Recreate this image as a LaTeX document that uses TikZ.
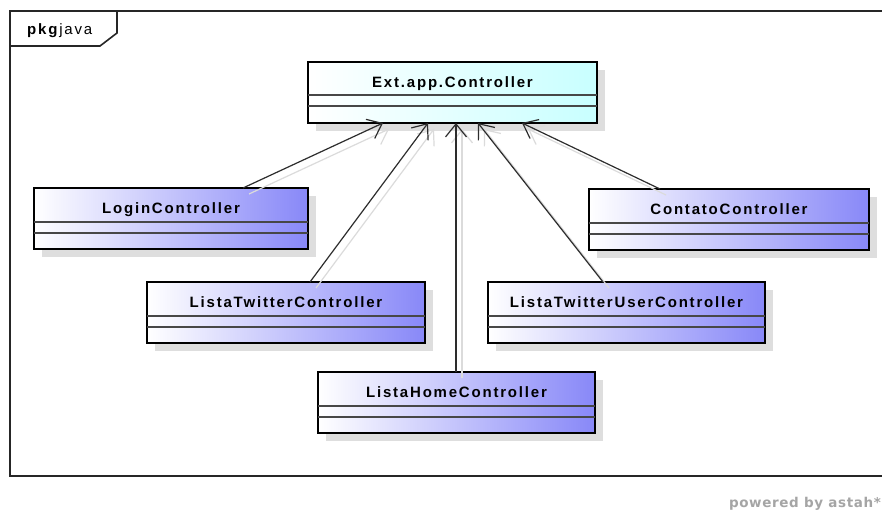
\documentclass[tikz,border=0pt]{standalone}
\usepackage{fontspec}
\setmainfont{Liberation Sans}
\newfontfamily\umlfont[LetterSpace=12]{Liberation Sans}
\newfontfamily\brandfont[LetterSpace=4.5]{DejaVu Sans}
\usetikzlibrary{arrows.meta}

\definecolor{classblue}{RGB}{136,136,248}
\definecolor{classcyan}{RGB}{200,255,255}
\definecolor{edgegray}{RGB}{45,45,45}
\definecolor{boxshade}{RGB}{222,222,222}
\definecolor{brandgray}{RGB}{165,165,165}

\tikzset{
  classbox/.style={draw=black, line width=2.9pt, rectangle, inner sep=0pt, outer sep=0pt,
    anchor=north west, left color=white, right color=#1, minimum height=61pt},
  classshadow/.style={fill=boxshade, draw=none},
  classname/.style={anchor=base, inner sep=0pt,
    font=\umlfont\bfseries\fontsize{15}{18}\selectfont},
  divider/.style={draw=black!72, line width=1.3pt},
  gen/.style={draw=edgegray, line width=1.2pt,
    -{Straight Barb[length=13pt,width=21pt]}},
  genshadow/.style={gen, draw=black!14, transform canvas={xshift=6pt,yshift=-6pt}},
  frameline/.style={draw=black!85, line width=1.6pt},
}

% #1 name, #2 x, #3 y (top left), #4 width, #5 fill colour, #6 first divider, #7 class name
\newcommand\umlclass[7]{%
  \fill[classshadow] (#2+8,#3+8) rectangle ++(#4,61);
  \node[classbox=#5, minimum width=#4pt] (#1) at (#2,#3) {};
  \draw[divider] ([yshift=-#6pt]#1.north west) -- ([yshift=-#6pt]#1.north east);
  \draw[divider] ([yshift=-#6pt-11pt]#1.north west) -- ([yshift=-#6pt-11pt]#1.north east);
  \node[classname] (#1-label) at ([yshift=-25.5pt]#1.north) {#7};
}

\begin{document}
\begin{tikzpicture}[x=1pt,y=-1pt]
  \useasboundingbox (0,0) rectangle (882,510);
  \fill[white] (0,0) rectangle (882,510);

  % package frame with its name tab
  \draw[frameline] (900,11) -- (10,11) -- (10,476) -- (900,476);
  \draw[frameline] (10,46) -- (100,46) -- (117,33) -- (117,11);
  \node[anchor=base west, inner sep=0pt, font=\fontsize{15}{18}\selectfont] (pkg)
    at (27,35) {\umlfont\textbf{pkg}java};

  % classes
  \umlclass{ext}{308}{62}{289}{classcyan}{33}{Ext.app.Controller}
  \umlclass{login}{34}{188}{274}{classblue}{34}{LoginController}
  \umlclass{contato}{589}{189}{280}{classblue}{34}{ContatoController}
  \umlclass{twitter}{147}{282}{278}{classblue}{34}{ListaTwitterController}
  \umlclass{twuser}{488}{282}{277}{classblue}{34}{ListaTwitterUserController}
  \umlclass{home}{318}{372}{277}{classblue}{34}{ListaHomeController}

  % generalizations: soft shadows first, then the lines themselves
  \foreach \src/\sx/\tx in {login/72/-69.5, twitter/24/-24.5, home/-0.5/3.5,
                            twuser/-23.5/25.5, contato/-69/69.5} {
    \draw[genshadow] ([xshift=\sx pt]\src.north) -- ([xshift=\tx pt]ext.south);
  }
  \foreach \src/\sx/\tx in {login/72/-69.5, twitter/24/-24.5, home/-0.5/3.5,
                            twuser/-23.5/25.5, contato/-69/69.5} {
    \draw[gen] ([xshift=\sx pt]\src.north) -- ([xshift=\tx pt]ext.south);
  }

  \node[anchor=base east, inner sep=0pt, text=brandgray,
        font=\brandfont\bfseries\fontsize{13.5}{16}\selectfont] (brand)
    at (881,507) {powered by astah*};
\end{tikzpicture}
\end{document}
